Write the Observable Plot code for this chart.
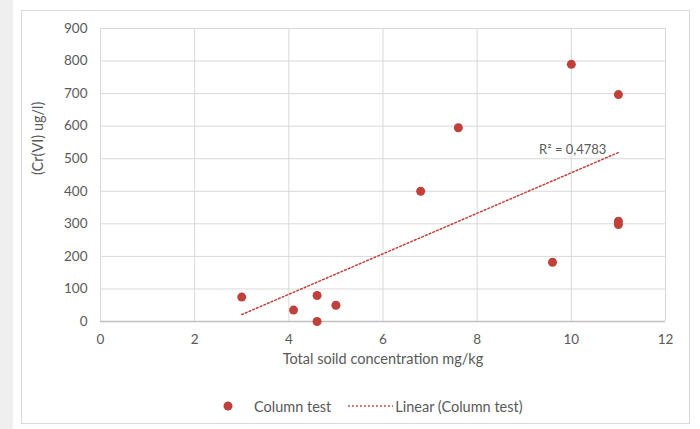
<!DOCTYPE html>
<html>
<head>
<meta charset="utf-8">
<script src="https://cdn.jsdelivr.net/npm/d3@7"></script>
<script src="https://cdn.jsdelivr.net/npm/@observablehq/plot@0.6"></script>
<style>
  html, body { margin: 0; padding: 0; }
  body { width: 700px; height: 429px; background: #ffffff; position: relative; overflow: hidden; font-family: Lato, "Open Sans", sans-serif; }
  #strip { position: absolute; left: 0; top: 0; width: 13px; height: 429px; background: #efefef; }
  #box { position: absolute; left: 21px; top: 10px; width: 667px; height: 412px; border: 1px solid #d9d9d9; background: #fff; }
  #chart { position: absolute; left: 0; top: 0; }
  #legend { position: absolute; left: 201px; top: 386px; height: 18px; display: flex; align-items: center; font-size: 14.5px; color: #595959; white-space: nowrap; }
  #legend .item { display: flex; align-items: center; }
</style>
</head>
<body>
<div id="strip"></div>
<div id="box">
  <div id="chart"></div>
  <div id="legend"></div>
</div>
<script>
// Data
const xValues = [3, 4.1, 4.6, 4.6, 5, 6.8, 7.6, 9.6, 10, 11, 11, 11];
const yValues = [75, 35, 80, 0, 50, 400, 595, 182, 790, 697, 308, 298];
const xTicks = [0, 2, 4, 6, 8, 10, 12];
const yTicks = [0, 100, 200, 300, 400, 500, 600, 700, 800, 900];
const seriesName = "Column test";
const trendName = "Linear (Column test)";
const r2Label = "R² = 0,4783";
const xTitle = "Total soild concentration mg/kg";
const yTitle = "(Cr(VI) ug/l)";

const red = "#c0413b";
const data = xValues.map((x, i) => ({x, y: yValues[i]}));

// regression endpoint for R² label placement
const mx = d3.mean(xValues), my = d3.mean(yValues);
const slope = d3.sum(data, d => (d.x - mx) * (d.y - my)) / d3.sum(data, d => (d.x - mx) ** 2);
const xMax = d3.max(xValues);
const labelData = [{x: xMax, y: my + slope * (xMax - mx), text: r2Label}];

const chart = Plot.plot({
  width: 667,
  height: 372,
  marginLeft: 78,
  marginRight: 24,
  marginTop: 17,
  marginBottom: 62,
  style: {fontFamily: "Lato, 'Open Sans', sans-serif", fontSize: "13px", color: "#595959", background: "transparent"},
  x: {domain: [0, 12]},
  y: {domain: [0, 900]},
  marks: [
    Plot.gridX(xTicks, {stroke: "#d9d9d9", strokeOpacity: 1}),
    Plot.gridY(yTicks, {stroke: "#d9d9d9", strokeOpacity: 1}),
    Plot.ruleY([0], {stroke: "#bfbfbf", strokeWidth: 1.5}),
    Plot.axisX(xTicks, {tickSize: 0, tickPadding: 13, label: null, fontSize: 13.5, fill: "#595959"}),
    Plot.axisY(yTicks, {tickSize: 0, tickPadding: 13, label: null, fontSize: 13.5, fill: "#595959"}),
    Plot.text([xTitle], {frameAnchor: "bottom", dy: 42, fontSize: 14.5, fill: "#595959"}),
    Plot.text([yTitle], {frameAnchor: "left", dx: -62, rotate: -90, fontSize: 14.5, fill: "#595959"}),
    Plot.linearRegressionY(data, {x: "x", y: "y", ci: 0, stroke: red, strokeWidth: 1.5, strokeDasharray: "1.8,2.2"}),
    Plot.dot(data, {x: "x", y: "y", r: 4.5, fill: red, stroke: "none"}),
    Plot.text(labelData, {x: "x", y: "y", text: "text", textAnchor: "end", dx: -12, dy: -3, fontSize: 13, fill: "#595959"})
  ]
});
document.getElementById("chart").appendChild(chart);

// legend
const legend = document.getElementById("legend");
legend.innerHTML = `
  <span class="item"><svg width="10" height="10"><circle cx="5" cy="5" r="4.5" fill="${red}"/></svg>
  <span style="margin-left:21px">${seriesName}</span></span>
  <span class="item" style="margin-left:17px"><svg width="45" height="6"><line x1="0" y1="3" x2="45" y2="3" stroke="${red}" stroke-width="1.5" stroke-dasharray="1.8,2.2"/></svg>
  <span style="margin-left:2px">${trendName}</span></span>`;
</script>
</body>
</html>
